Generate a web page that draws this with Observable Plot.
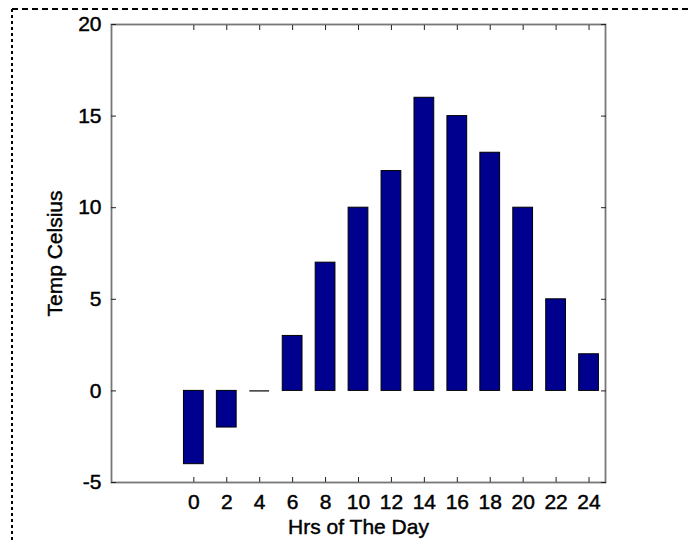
<!DOCTYPE html>
<html>
<head>
<meta charset="utf-8">
<script src="https://cdn.jsdelivr.net/npm/d3@7"></script>
<script src="https://cdn.jsdelivr.net/npm/@observablehq/plot@0.6"></script>
<style>
  html, body { margin: 0; padding: 0; background: #fff; }
  #wrap { position: relative; width: 688px; height: 542px; }
  #wrap svg.border { position: absolute; left: 0; top: 0; pointer-events: none; }
  #wrap svg text { font-size: 21px !important; stroke: #000; stroke-width: 0.45px; }
</style>
</head>
<body>
<div id="wrap"></div>
<script>
// Hourly temperature readings
const hours = [0, 2, 4, 6, 8, 10, 12, 14, 16, 18, 20, 22, 24];
const temps = [-4, -2, 0, 3, 7, 10, 12, 16, 15, 13, 10, 5, 2];
const xTicks = [0, 2, 4, 6, 8, 10, 12, 14, 16, 18, 20, 22, 24];
const yTicks = [-5, 0, 5, 10, 15, 20];

const rows = hours.map((h, i) => ({hour: h, temp: temps[i]}));
const halfBar = 0.6;
const font = "'Liberation Sans', Arial, sans-serif";

const chart = Plot.plot({
  width: 688,
  height: 542,
  marginLeft: 111,
  marginRight: 83,
  marginTop: 24,
  marginBottom: 60,
  style: {fontFamily: font, fontSize: "21px", color: "#000", background: "transparent"},
  x: {domain: [-5, 25]},
  y: {domain: [-5, 20]},
  marks: [
    Plot.frame({stroke: "#777", strokeWidth: 1.8}),
    Plot.rectY(rows, {
      x1: d => d.hour - halfBar,
      x2: d => d.hour + halfBar,
      y1: () => 0,
      y2: d => d.temp,
      fill: "#00008f",
      stroke: "#000",
      strokeWidth: 1
    }),
    // a zero-valued bar collapses to its outline
    Plot.ruleY(rows.filter(d => d.temp === 0), {
      y: "temp",
      x1: d => d.hour - halfBar,
      x2: d => d.hour + halfBar,
      stroke: "#000",
      strokeWidth: 1.2
    }),
    Plot.axisX(xTicks, {anchor: "bottom", tickSize: -5, tickPadding: 17, stroke: "#222", label: null, tickFormat: d => String(d)}),
    Plot.axisX(xTicks, {anchor: "top", tickSize: -5, stroke: "#222", label: null, tickFormat: () => ""}),
    Plot.axisY(yTicks, {anchor: "left", tickSize: -5, tickPadding: 15, stroke: "#222", label: null, tickFormat: d => String(d)}),
    Plot.axisY(yTicks, {anchor: "right", tickSize: -5, stroke: "#222", label: null, tickFormat: () => ""}),
    Plot.text(["Hrs of The Day"], {frameAnchor: "bottom", lineAnchor: "middle", dy: 45, fill: "#000"}),
    Plot.text(["Temp Celsius"], {frameAnchor: "left", textAnchor: "middle", dx: -56, rotate: -90, fill: "#000"})
  ]
});

const wrap = document.getElementById("wrap");
wrap.appendChild(chart);

// dashed page border along the top and left edges
const ns = "http://www.w3.org/2000/svg";
const border = document.createElementNS(ns, "svg");
border.setAttribute("class", "border");
border.setAttribute("width", 688);
border.setAttribute("height", 542);
border.innerHTML =
  '<line x1="12" y1="9" x2="688" y2="9" stroke="#000" stroke-width="2" stroke-dasharray="6 4"/>' +
  '<line x1="12" y1="9" x2="12" y2="542" stroke="#000" stroke-width="2" stroke-dasharray="3 3"/>';
wrap.appendChild(border);
</script>
</body>
</html>
